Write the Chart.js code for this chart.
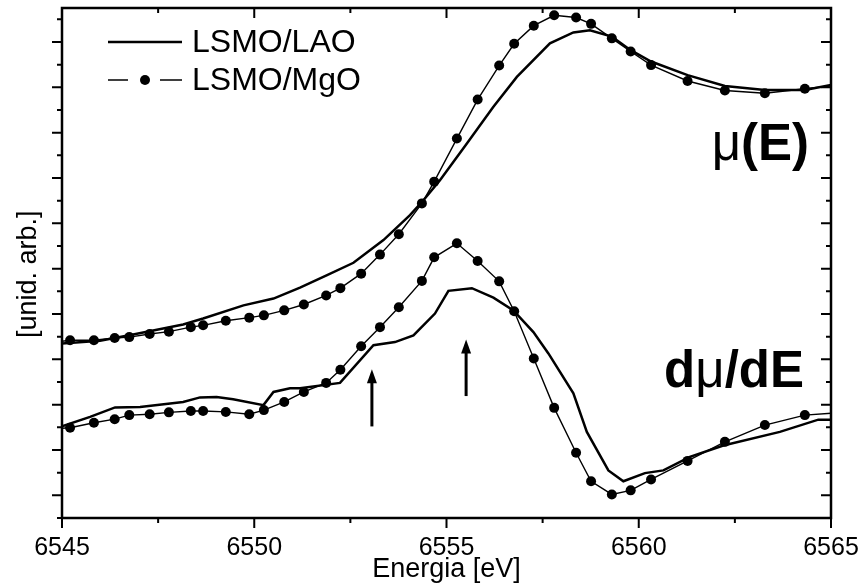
<!DOCTYPE html>
<html lang="pt">
<head>
<meta charset="UTF-8">
<title>XANES LSMO</title>
<script src="https://cdn.jsdelivr.net/npm/chart.js@4.4.1/dist/chart.umd.min.js"></script>
<style>
  body { margin: 0; background: #fff; }
</style>
</head>
<body>
<canvas id="chart" width="862" height="587"></canvas>
<script>
// energia (eV) e intensidade em unid. arb.
const mgoE = [6544.8, 6545.21, 6545.83, 6546.37, 6546.75, 6547.28, 6547.78, 6548.35, 6548.67, 6549.26,
  6549.87, 6550.25, 6550.78, 6551.29, 6551.87, 6552.24, 6552.78, 6553.27, 6553.76, 6554.36,
  6554.68, 6555.27, 6555.81, 6556.37, 6556.76, 6557.27, 6557.80, 6558.37, 6558.76, 6559.30,
  6559.79, 6560.32, 6561.27, 6562.24, 6563.28, 6564.32, 6565.3];
const mgoMu = [3.38, 3.42, 3.42, 3.47, 3.49, 3.56, 3.61, 3.71, 3.75, 3.85,
  3.92, 3.97, 4.08, 4.21, 4.41, 4.57, 4.89, 5.31, 5.76, 6.44,
  6.92, 7.87, 8.73, 9.48, 9.96, 10.36, 10.59, 10.54, 10.40, 10.08,
  9.79, 9.49, 9.14, 8.93, 8.87, 8.97, 9.06];
const mgoDmu = [1.47, 1.49, 1.60, 1.68, 1.77, 1.79, 1.83, 1.86, 1.86, 1.84,
  1.79, 1.88, 2.06, 2.28, 2.48, 2.77, 3.29, 3.71, 4.15, 4.73,
  5.25, 5.56, 5.17, 4.72, 4.06, 3.02, 1.93, 0.94, 0.31, 0.02,
  0.11, 0.35, 0.76, 1.18, 1.55, 1.77, 1.83];

const laoMuE = [6545.00, 6545.99, 6546.85, 6548.15, 6548.67, 6549.72, 6550.50, 6551.19, 6551.88, 6552.58,
  6553.36, 6554.05, 6554.40, 6554.83, 6555.53, 6556.22, 6556.83, 6557.69, 6558.30, 6558.73,
  6559.30, 6559.79, 6560.32, 6561.27, 6562.24, 6563.28, 6564.32, 6565.00];
const laoMu = [3.35, 3.41, 3.55, 3.77, 3.90, 4.19, 4.34, 4.58, 4.85, 5.13,
  5.63, 6.18, 6.51, 6.95, 7.76, 8.57, 9.23, 9.97, 10.21, 10.26,
  10.12, 9.82, 9.57, 9.27, 9.03, 8.94, 8.94, 9.05];

const laoDmuE = [6545.00, 6545.73, 6546.38, 6547.03, 6548.15, 6548.59, 6549.02, 6549.45, 6550.24, 6550.50,
  6550.93, 6551.19, 6552.23, 6553.10, 6553.66, 6554.14, 6554.70, 6555.05, 6555.66, 6556.22,
  6556.74, 6557.26, 6557.65, 6558.30, 6558.65, 6559.21, 6559.60, 6560.16, 6560.64, 6561.33,
  6562.20, 6563.67, 6564.67, 6565.00];
const laoDmu = [1.52, 1.73, 1.94, 1.95, 2.06, 2.16, 2.17, 2.12, 1.99, 2.28,
  2.36, 2.36, 2.48, 3.31, 3.38, 3.53, 4.01, 4.51, 4.57, 4.36,
  4.08, 3.60, 3.13, 2.25, 1.40, 0.55, 0.31, 0.49, 0.55, 0.85,
  1.10, 1.40, 1.67, 1.67];

// setas (posicao em eV, de / ate em unid. arb.)
const arrowE = [6553.06, 6555.51];
const arrowFrom = [1.52, 2.19];
const arrowTo = [2.78, 3.44];

const xTicks = [6545, 6550, 6555, 6560, 6565];
const FONT = '"Liberation Sans", Arial, sans-serif';

function pts(xs, ys) { return xs.map((x, i) => ({ x: x, y: ys[i] })); }

const solid = { borderColor: '#000', borderWidth: 2.5, pointRadius: 0, tension: 0, fill: false };
const dotted = { borderColor: '#000', borderWidth: 1.4, pointRadius: 5, pointBackgroundColor: '#000',
  pointBorderWidth: 0, tension: 0, fill: false };

// moldura, marcas, legenda, setas e rotulos no estilo Origin
const decor = {
  id: 'decor',
  afterDraw(chart) {
    const ctx = chart.ctx;
    const xs = chart.scales.x, ys = chart.scales.y;
    const a = chart.chartArea;
    ctx.save();
    ctx.strokeStyle = '#000';
    ctx.fillStyle = '#000';

    // ticks
    ctx.lineWidth = 2;
    ctx.beginPath();
    for (let v = 6545; v <= 6565; v += 2.5) {
      const px = xs.getPixelForValue(v);
      const len = (v % 5 === 0) ? 10 : 5;
      ctx.moveTo(px, a.bottom); ctx.lineTo(px, a.bottom + len);
      ctx.moveTo(px, a.top); ctx.lineTo(px, a.top + len);
    }
    for (let v = -0.5; v <= 10.5; v += 0.5) {
      const py = ys.getPixelForValue(v);
      const len = Number.isInteger(v) ? 10 : 5;
      ctx.moveTo(a.left, py); ctx.lineTo(a.left - len, py);
      ctx.moveTo(a.right, py); ctx.lineTo(a.right - len, py);
    }
    ctx.stroke();

    // frame
    ctx.lineWidth = 2.5;
    ctx.strokeRect(a.left, a.top, a.right - a.left, a.bottom - a.top);

    // legend
    const ds = chart.data.datasets;
    ctx.font = '32px ' + FONT;
    ctx.textBaseline = 'middle';
    ctx.textAlign = 'left';
    [0, 1].forEach((k, i) => {
      const y = a.top + 34 + i * 38;
      const d = ds[k];
      ctx.lineWidth = d.borderWidth;
      ctx.beginPath();
      if (d.pointRadius > 0) {
        ctx.moveTo(a.left + 46, y); ctx.lineTo(a.left + 66, y);
        ctx.moveTo(a.left + 98, y); ctx.lineTo(a.left + 120, y);
        ctx.stroke();
        ctx.beginPath();
        ctx.arc(a.left + 83, y, d.pointRadius, 0, Math.PI * 2);
        ctx.fill();
      } else {
        ctx.moveTo(a.left + 46, y); ctx.lineTo(a.left + 120, y);
        ctx.stroke();
      }
      ctx.fillText(d.label, a.left + 130, y + 1);
    });

    // arrows
    ctx.lineWidth = 3;
    arrowE.forEach((e, i) => {
      const px = xs.getPixelForValue(e);
      const y0 = ys.getPixelForValue(arrowFrom[i]);
      const y1 = ys.getPixelForValue(arrowTo[i]);
      ctx.beginPath();
      ctx.moveTo(px, y0); ctx.lineTo(px, y1 + 10);
      ctx.stroke();
      ctx.beginPath();
      ctx.moveTo(px, y1); ctx.lineTo(px - 5, y1 + 14); ctx.lineTo(px + 5, y1 + 14);
      ctx.closePath();
      ctx.fill();
    });

    // curve labels: mu regular, the rest bold
    function label(parts, xr, yb) {
      ctx.textBaseline = 'alphabetic';
      let w = 0;
      parts.forEach(p => { ctx.font = p[1] + ' 51px ' + FONT; w += ctx.measureText(p[0]).width; });
      let x = xr - w;
      parts.forEach(p => {
        ctx.font = p[1] + ' 51px ' + FONT;
        ctx.fillText(p[0], x, yb);
        x += ctx.measureText(p[0]).width;
      });
    }
    label([['\u03bc', 'normal'], ['(E)', 'bold']], a.right - 22, ys.getPixelForValue(7.4));
    label([['d', 'bold'], ['\u03bc', 'normal'], ['/dE', 'bold']], a.right - 27, ys.getPixelForValue(2.4));
    ctx.restore();
  }
};

new Chart(document.getElementById('chart').getContext('2d'), {
  type: 'line',
  data: {
    datasets: [
      Object.assign({ label: 'LSMO/LAO', data: pts(laoMuE, laoMu) }, solid),
      Object.assign({ label: 'LSMO/MgO', data: pts(mgoE, mgoMu) }, dotted),
      Object.assign({ label: 'LSMO/LAO', data: pts(laoDmuE, laoDmu) }, solid),
      Object.assign({ label: 'LSMO/MgO', data: pts(mgoE, mgoDmu) }, dotted)
    ]
  },
  options: {
    responsive: false,
    animation: false,
    events: [],
    layout: { padding: { top: 8, right: 31, bottom: 0, left: 0 } },
    plugins: { legend: { display: false }, tooltip: { enabled: false } },
    scales: {
      x: {
        type: 'linear',
        min: 6545, max: 6565,
        afterBuildTicks: s => { s.ticks = xTicks.map(v => ({ value: v })); },
        afterFit: s => { s.height = 69; s.paddingLeft = 0; s.paddingRight = 0; },
        grid: { display: false },
        border: { display: false },
        ticks: { color: '#000', font: { family: FONT, size: 25 }, padding: 7, maxRotation: 0,
          autoSkip: false, callback: v => String(v) },
        title: { display: true, text: 'Energia [eV]', color: '#000',
          font: { family: FONT, size: 27 }, padding: { top: 0, bottom: 1 } }
      },
      y: {
        min: -0.5, max: 10.75,
        afterFit: s => { s.width = 62; },
        grid: { display: false },
        border: { display: false },
        ticks: { display: false },
        title: { display: true, text: '[unid. arb.]   ', color: '#000',
          font: { family: FONT, size: 27 }, padding: { top: 12, bottom: 0 } }
      }
    }
  },
  plugins: [decor]
});
</script>
</body>
</html>
